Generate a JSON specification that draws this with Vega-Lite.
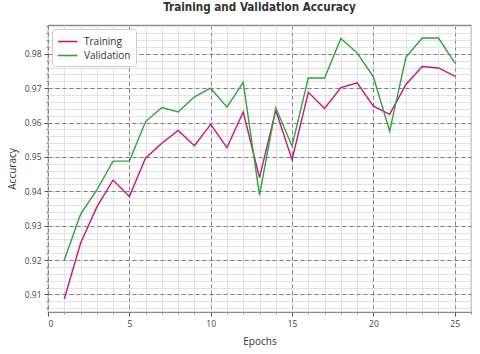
{
  "$schema": "https://vega.github.io/schema/vega-lite/v6.json",
  "width": 423,
  "height": 287,
  "autosize": "none",
  "padding": {"left": 48, "top": 25, "right": 9, "bottom": 42},
  "background": "white",
  "config": {
    "view": {"stroke": "#8c8c8c", "strokeWidth": 1.2},
    "font": "Open Sans"
  },
  "title": {
    "text": "Training and Validation Accuracy",
    "font": "DejaVu Sans Condensed, DejaVu Sans, sans-serif",
    "fontSize": 11.6,
    "fontWeight": "bold",
    "color": "#333333",
    "anchor": "middle",
    "offset": 11
  },
  "data": {
    "values": [
      {"epoch": 1, "series": "Training", "acc": 0.9087},
      {"epoch": 2, "series": "Training", "acc": 0.9249},
      {"epoch": 3, "series": "Training", "acc": 0.9354},
      {"epoch": 4, "series": "Training", "acc": 0.9433},
      {"epoch": 5, "series": "Training", "acc": 0.9385},
      {"epoch": 6, "series": "Training", "acc": 0.9497},
      {"epoch": 7, "series": "Training", "acc": 0.9540},
      {"epoch": 8, "series": "Training", "acc": 0.9577},
      {"epoch": 9, "series": "Training", "acc": 0.9533},
      {"epoch": 10, "series": "Training", "acc": 0.9595},
      {"epoch": 11, "series": "Training", "acc": 0.9527},
      {"epoch": 12, "series": "Training", "acc": 0.9631},
      {"epoch": 13, "series": "Training", "acc": 0.9440},
      {"epoch": 14, "series": "Training", "acc": 0.9636},
      {"epoch": 15, "series": "Training", "acc": 0.9492},
      {"epoch": 16, "series": "Training", "acc": 0.9688},
      {"epoch": 17, "series": "Training", "acc": 0.9641},
      {"epoch": 18, "series": "Training", "acc": 0.9702},
      {"epoch": 19, "series": "Training", "acc": 0.9716},
      {"epoch": 20, "series": "Training", "acc": 0.9648},
      {"epoch": 21, "series": "Training", "acc": 0.9624},
      {"epoch": 22, "series": "Training", "acc": 0.9711},
      {"epoch": 23, "series": "Training", "acc": 0.9763},
      {"epoch": 24, "series": "Training", "acc": 0.9759},
      {"epoch": 25, "series": "Training", "acc": 0.9735},
      {"epoch": 1, "series": "Validation", "acc": 0.9200},
      {"epoch": 2, "series": "Validation", "acc": 0.9333},
      {"epoch": 3, "series": "Validation", "acc": 0.9404},
      {"epoch": 4, "series": "Validation", "acc": 0.9488},
      {"epoch": 5, "series": "Validation", "acc": 0.9488},
      {"epoch": 6, "series": "Validation", "acc": 0.9603},
      {"epoch": 7, "series": "Validation", "acc": 0.9644},
      {"epoch": 8, "series": "Validation", "acc": 0.9631},
      {"epoch": 9, "series": "Validation", "acc": 0.9675},
      {"epoch": 10, "series": "Validation", "acc": 0.9700},
      {"epoch": 11, "series": "Validation", "acc": 0.9645},
      {"epoch": 12, "series": "Validation", "acc": 0.9717},
      {"epoch": 13, "series": "Validation", "acc": 0.9389},
      {"epoch": 14, "series": "Validation", "acc": 0.9643},
      {"epoch": 15, "series": "Validation", "acc": 0.9532},
      {"epoch": 16, "series": "Validation", "acc": 0.9730},
      {"epoch": 17, "series": "Validation", "acc": 0.9730},
      {"epoch": 18, "series": "Validation", "acc": 0.9845},
      {"epoch": 19, "series": "Validation", "acc": 0.9803},
      {"epoch": 20, "series": "Validation", "acc": 0.9733},
      {"epoch": 21, "series": "Validation", "acc": 0.9575},
      {"epoch": 22, "series": "Validation", "acc": 0.9790},
      {"epoch": 23, "series": "Validation", "acc": 0.9846},
      {"epoch": 24, "series": "Validation", "acc": 0.9846},
      {"epoch": 25, "series": "Validation", "acc": 0.9774}
    ]
  },
  "layer": [
    {
      "mark": {"type": "line", "strokeOpacity": 0},
      "encoding": {
        "x": {
          "field": "epoch", "type": "quantitative",
          "scale": {"domain": [0, 26], "nice": false, "zero": false},
          "axis": {
            "orient": "bottom", "values": [0,1,2,3,4,5,6,7,8,9,10,11,12,13,14,15,16,17,18,19,20,21,22,23,24,25,26],
            "labels": false, "title": null, "domain": false,
            "ticks": true, "tickSize": 2, "tickColor": "#777777", "tickWidth": 0.8,
            "grid": true, "gridColor": "#dcdcdc", "gridWidth": 0.8
          }
        },
        "y": {
          "field": "acc", "type": "quantitative",
          "scale": {"domain": [0.9049, 0.9884], "nice": false, "zero": false},
          "axis": {
            "orient": "left",
            "values": [0.906,0.908,0.910,0.912,0.914,0.916,0.918,0.920,0.922,0.924,0.926,0.928,0.930,0.932,0.934,0.936,0.938,0.940,0.942,0.944,0.946,0.948,0.950,0.952,0.954,0.956,0.958,0.960,0.962,0.964,0.966,0.968,0.970,0.972,0.974,0.976,0.978,0.980,0.982,0.984,0.986,0.988],
            "labels": false, "title": null, "domain": false,
            "ticks": true, "tickSize": 2, "tickColor": "#777777", "tickWidth": 0.8,
            "grid": true, "gridColor": "#dcdcdc", "gridWidth": 0.8
          }
        },
        "detail": {"field": "series"}
      }
    },
    {
      "mark": {"type": "line", "strokeWidth": 1.4},
      "encoding": {
        "x": {
          "field": "epoch", "type": "quantitative",
          "scale": {"domain": [0, 26], "nice": false, "zero": false},
          "axis": {
            "orient": "bottom", "values": [0, 5, 10, 15, 20, 25],
            "title": "Epochs", "titleFont": "Open Sans", "titleFontSize": 10, "titleFontWeight": "normal", "titleColor": "#333333", "titlePadding": 9,
            "labelFont": "Open Sans", "labelFontSize": 8.5, "labelColor": "#444444", "labelPadding": 3,
            "domain": false, "ticks": true, "tickSize": 4, "tickColor": "#555555", "tickWidth": 1,
            "grid": true, "gridColor": "#808080", "gridWidth": 1, "gridDash": [4, 3]
          }
        },
        "y": {
          "field": "acc", "type": "quantitative",
          "scale": {"domain": [0.9049, 0.9884], "nice": false, "zero": false},
          "axis": {
            "orient": "left", "values": [0.91, 0.92, 0.93, 0.94, 0.95, 0.96, 0.97, 0.98], "format": ".2f",
            "title": "Accuracy", "titleFont": "Open Sans", "titleFontSize": 10, "titleFontWeight": "normal", "titleColor": "#333333", "titlePadding": 7,
            "labelFont": "Open Sans", "labelFontSize": 8.5, "labelColor": "#444444", "labelPadding": 3,
            "domain": false, "ticks": true, "tickSize": 4, "tickColor": "#555555", "tickWidth": 1,
            "grid": true, "gridColor": "#808080", "gridWidth": 1, "gridDash": [4, 3]
          }
        },
        "color": {
          "field": "series", "type": "nominal",
          "scale": {"domain": ["Training", "Validation"], "range": ["#c8157f", "#2ea43a"]},
          "legend": {
            "title": null, "orient": "top-left", "offset": 4,
            "padding": 5, "strokeColor": "#cccccc", "fillColor": "white", "cornerRadius": 3,
            "symbolType": "M-1,0H2", "symbolSize": 169, "symbolStrokeWidth": 1.6,
            "labelFont": "Open Sans", "labelFontSize": 10, "labelColor": "#333333",
            "labelOffset": 12, "rowPadding": 1
          }
        }
      }
    }
  ],
  "resolve": {"axis": {"x": "independent", "y": "independent"}}
}
